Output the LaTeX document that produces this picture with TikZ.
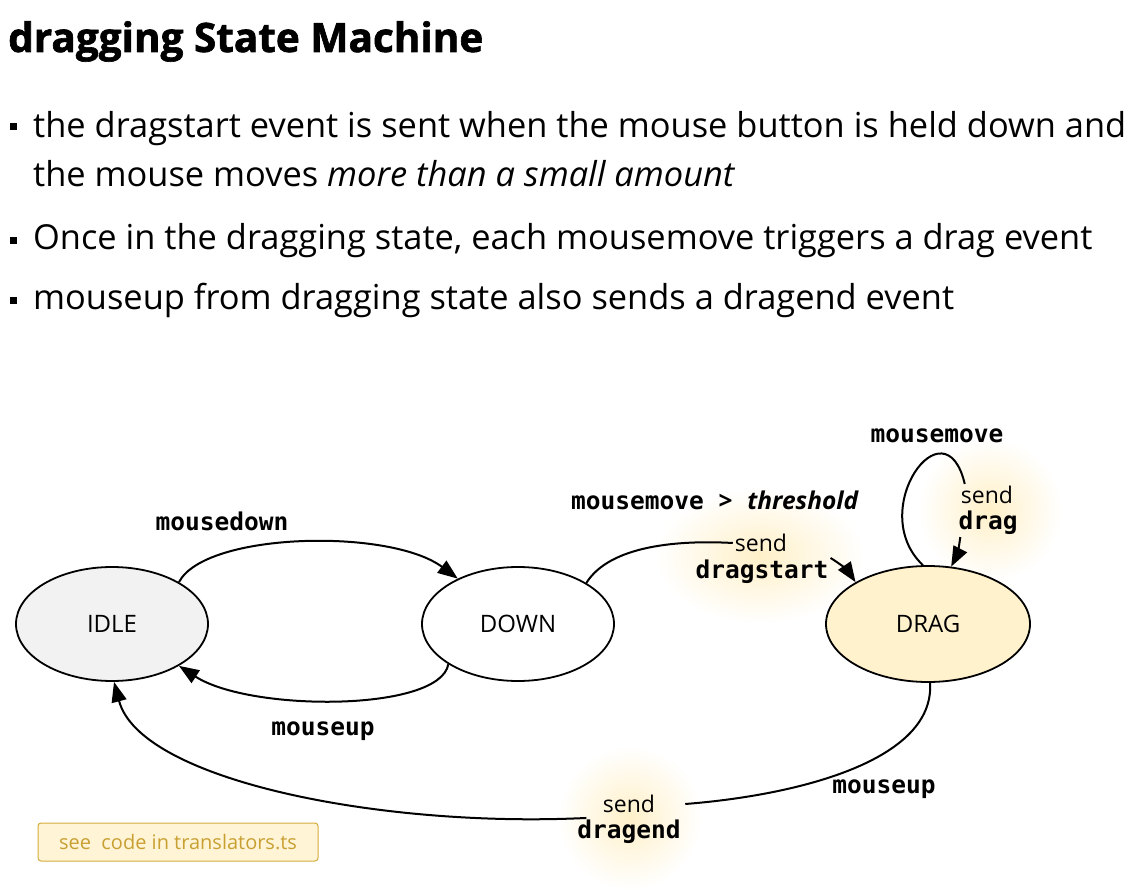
\documentclass[tikz,border=0pt]{standalone}
\usepackage{fontspec}
\setmainfont{Open Sans}
\newfontfamily\evfont{DejaVu Sans Mono}
\newfontfamily\titlefont{Open Sans}[BoldFeatures={FakeBold=1.6}]
\usetikzlibrary{arrows.meta,shapes.geometric,positioning}
\definecolor{idlefill}{HTML}{F2F2F2}
\definecolor{dragfill}{HTML}{FFF2CC}
\definecolor{glowcol}{HTML}{FFF0C8}
\definecolor{notefill}{HTML}{FFF4D6}
\definecolor{notedraw}{HTML}{D4AC3C}
\definecolor{notetext}{HTML}{C8A032}

\begin{document}
\begin{tikzpicture}[x=1pt,y=-1pt,
  state/.style={ellipse,draw,line width=1.8pt,minimum width=192pt,
    minimum height=114pt,font=\fontsize{24}{28}\selectfont},
  ev/.style={font=\evfont\bfseries\fontsize{24.5}{27}\selectfont,inner sep=2pt},
  sendlbl/.style={font=\fontsize{23}{26}\selectfont,inner sep=2pt},
  bullet/.style={font=\fontsize{34.4}{40}\selectfont,anchor=base west,inner sep=0pt},
  trans/.style={line width=2pt},
  arr/.style={trans,-{Triangle[length=20pt,width=15pt]}}]
  \useasboundingbox (0,0) rectangle (1130,890);

  % title and bullets
  \node[anchor=base west,inner sep=0pt,font=\titlefont\fontsize{40.5}{44}\selectfont\bfseries]
    (title) at (8,52) {dragging State Machine};
  \fill (10,123) rectangle +(7,7);
  \fill (10,237) rectangle +(7,7);
  \fill (10,297) rectangle +(7,7);
  \node[bullet] (b1) at (33,138)
    {the dragstart event is sent when the mouse button is held down and};
  \node[bullet] (b1b) at (33,187)
    {the mouse moves \textit{more than a small amount}};
  \node[bullet] (b2) at (33,250)
    {Once in the dragging state, each mousemove triggers a drag event};
  \node[bullet] (b3) at (33,310)
    {mouseup from dragging state also sends a dragend event};

  % glows behind the send labels
  \shade[inner color=glowcol,outer color=white] (760,556) ellipse (105 and 68);
  \shade[inner color=glowcol,outer color=white] (990,510) ellipse (72 and 72);
  \shade[inner color=glowcol,outer color=white] (630,818) ellipse (72 and 72);

  % states
  \node[state,fill=idlefill] (idle) at (112,624) {IDLE};
  \node[state,fill=white] (down) at (518,624) {DOWN};
  \node[state,fill=dragfill,minimum width=204pt,minimum height=116pt]
    (drag) at (928,624) {DRAG};

  % labels
  \node[ev] (mdown) at (222,521) {mousedown};
  \node[ev] (mup1) at (323,731) {mouseup};
  \node[ev] (mthresh) at (715,500)
    {mousemove \textrm{\bfseries >} \textrm{\bfseries\itshape threshold}};
  \node[sendlbl] (dsend) at (761,543) {send};
  \node[ev] (dstart) at (762,572) {dragstart};
  \node[ev] (mmove) at (937,436) {mousemove};
  \node[sendlbl] (gsend) at (987,495) {send};
  \node[ev] (gdrag) at (988,523) {drag};
  \node[ev] (mup2) at (884,789) {mouseup};
  \node[sendlbl] (esend) at (629,804) {send};
  \node[ev] (eend) at (629,832) {dragend};

  % transitions
  \draw[arr] (idle.32) .. controls (205,532) and (390,528) .. (down.143);
  \draw[arr] (down.210) .. controls (440,712) and (250,712) .. (idle.328);
  \draw[trans] (down.31) .. controls (610,545) and (680,540) .. (dsend.west);
  \draw[arr] (dstart.north east) to[bend left=12] (drag.150);
  \draw[trans] (drag.95) .. controls (865,510) and (945,400) .. ([xshift=6pt]gsend.north west);
  \draw[arr] ([xshift=4pt]gdrag.south west) to[bend left=10] (drag.68);
  \draw[trans] (drag.272) .. controls (935,760) and (800,795) .. ([xshift=28pt]esend.east);
  \draw[arr] ([xshift=-4pt]eend.160) .. controls (380,828) and (140,780) .. (idle.272);

  % note
  \node[draw=notedraw,fill=notefill,text=notetext,rounded corners=3pt,
    minimum width=280pt,minimum height=38pt,line width=1pt,
    font=\fontsize{20}{24}\selectfont] (note) at (178,842) {see\ \ code in translators.ts};
\end{tikzpicture}
\end{document}
